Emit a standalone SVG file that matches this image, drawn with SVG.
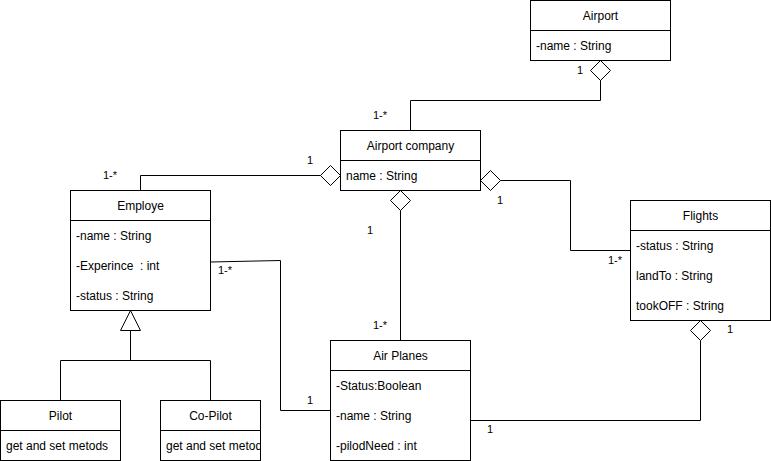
<svg xmlns="http://www.w3.org/2000/svg" width="771" height="461" viewBox="0 0 771 461">
<style>
.box{fill:#fff;stroke:#000;stroke-width:1}
.t{font-family:"Liberation Sans",Arial,sans-serif;font-size:12px;fill:#000}
.c{text-anchor:middle}
.lbl{font-family:"Liberation Sans",Arial,sans-serif;font-size:11px;fill:#000;text-anchor:middle}
.ln{fill:none;stroke:#000;stroke-width:1}
.dia{fill:#fff;stroke:#000;stroke-width:1}
</style>
<defs>
<clipPath id="cpClip"><rect x="160" y="430" width="100" height="30"/></clipPath>
</defs>
<rect width="771" height="461" fill="#fff"/>
<g id="connectors">
<path class="ln" d="M600.5 80 V100.5 H410.5 V130.5"/>
<polygon class="dia" points="600.5,60.5 610.5,70.5 600.5,80.5 590.5,70.5"/>
<path class="ln" d="M320.5 175.5 H140.5 V190.5"/>
<polygon class="dia" points="340.5,175.5 330.5,185.5 320.5,175.5 330.5,165.5"/>
<path class="ln" d="M400.5 210.5 V340.5"/>
<polygon class="dia" points="400.5,190.5 410.5,200.5 400.5,210.5 390.5,200.5"/>
<path class="ln" d="M500.5 180.5 H570.5 V250.5 H630.5"/>
<polygon class="dia" points="480.5,180.5 490.5,170.5 500.5,180.5 490.5,190.5"/>
<path class="ln" d="M700.5 340.5 V420.5 H470.5"/>
<polygon class="dia" points="700.5,320.5 710.5,330.5 700.5,340.5 690.5,330.5"/>
<path class="ln" d="M210.5 262 L280.5 260.5 V410.5 H330.5"/>
<path class="ln" d="M130.5 330.5 V360.5 M60.5 400.5 V360.5 H210.5 V400.5"/>
<polygon class="dia" points="130.5,310.5 140.5,330.5 120.5,330.5"/>
<text class="lbl" x="580" y="74">1</text>
<text class="lbl" x="380" y="119">1-*</text>
<text class="lbl" x="310" y="164">1</text>
<text class="lbl" x="110" y="179">1-*</text>
<text class="lbl" x="370" y="234">1</text>
<text class="lbl" x="380" y="329">1-*</text>
<text class="lbl" x="500" y="204">1</text>
<text class="lbl" x="615" y="264">1-*</text>
<text class="lbl" x="225" y="274">1-*</text>
<text class="lbl" x="310" y="404">1</text>
<text class="lbl" x="730" y="333">1</text>
<text class="lbl" x="490" y="433">1</text>
</g>
<g id="airport">
<rect class="box" x="530.5" y="0.5" width="140" height="60"/>
<line class="ln" x1="530.5" y1="30.5" x2="670.5" y2="30.5"/>
<text class="t c" x="600.5" y="20">Airport</text>
<text class="t" x="536" y="50">-name : String</text>
</g>
<g id="airport-company">
<rect class="box" x="340.5" y="130.5" width="140" height="60"/>
<line class="ln" x1="340.5" y1="160.5" x2="480.5" y2="160.5"/>
<text class="t c" x="410.5" y="150">Airport company</text>
<text class="t" x="346" y="180">name : String</text>
</g>
<g id="employe">
<rect class="box" x="70.5" y="190.5" width="140" height="120"/>
<line class="ln" x1="70.5" y1="220.5" x2="210.5" y2="220.5"/>
<text class="t c" x="140.5" y="210">Employe</text>
<text class="t" x="76" y="240">-name : String</text>
<text class="t" x="76" y="270" xml:space="preserve">-Experince  : int</text>
<text class="t" x="76" y="300">-status : String</text>
</g>
<g id="flights">
<rect class="box" x="630.5" y="200.5" width="140" height="120"/>
<line class="ln" x1="630.5" y1="230.5" x2="770.5" y2="230.5"/>
<text class="t c" x="700.5" y="220">Flights</text>
<text class="t" x="636" y="250">-status : String</text>
<text class="t" x="636" y="280">landTo : String</text>
<text class="t" x="636" y="310">tookOFF : String</text>
</g>
<g id="air-planes">
<rect class="box" x="330.5" y="340.5" width="140" height="120"/>
<line class="ln" x1="330.5" y1="370.5" x2="470.5" y2="370.5"/>
<text class="t c" x="400.5" y="360">Air Planes</text>
<text class="t" x="336" y="390">-Status:Boolean</text>
<text class="t" x="336" y="420">-name : String</text>
<text class="t" x="336" y="450">-pilodNeed : int</text>
</g>
<g id="pilot">
<rect class="box" x="0.5" y="400.5" width="120" height="60"/>
<line class="ln" x1="0.5" y1="430.5" x2="120.5" y2="430.5"/>
<text class="t c" x="60.5" y="420">Pilot</text>
<text class="t" x="6" y="450">get and set metods</text>
</g>
<g id="co-pilot">
<rect class="box" x="160.5" y="400.5" width="100" height="60"/>
<line class="ln" x1="160.5" y1="430.5" x2="260.5" y2="430.5"/>
<text class="t c" x="210.5" y="420">Co-Pilot</text>
<text class="t" x="166" y="450" clip-path="url(#cpClip)">get and set metods</text>
</g>
</svg>
